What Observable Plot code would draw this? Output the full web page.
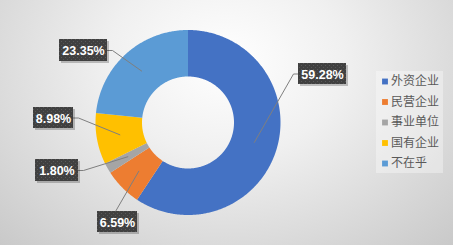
<!DOCTYPE html>
<html><head><meta charset="utf-8">
<script src="https://cdn.jsdelivr.net/npm/d3@7"></script>
<script src="https://cdn.jsdelivr.net/npm/@observablehq/plot@0.6"></script>
<style>
html,body{margin:0;padding:0;}
body{width:453px;height:245px;overflow:hidden;
background: radial-gradient(ellipse 75% 110% at 50% 25%, #ffffff 0%, #f0f0f0 35%, #c6c6c6 100%);}
#chart svg{display:block;background:transparent;}
</style></head>
<body><div id="chart"></div>
<script>
// ---- data ----
const categories = ["外资企业", "民营企业", "事业单位", "国有企业", "不在乎"];
const values = [59.28, 6.59, 1.80, 8.98, 23.35];
const labels = ["59.28%", "6.59%", "1.80%", "8.98%", "23.35%"];
const colors = ["#4472C4", "#ED7D31", "#A5A5A5", "#FFC000", "#5B9BD5"];

// ---- layout (pixel offsets from donut centre) ----
const CX = 187.5, CY = 122, R = 92.5, R0 = 46;
const labelLayout = [
  {dx: 134.5, dy: -48.5, w: 48, h: 21, side: "left"},
  {dx: -70.5, dy: 99.5, w: 40, h: 21, side: "top"},
  {dx: -131, dy: 48, w: 43, h: 22, side: "right"},
  {dx: -134.5, dy: -4.5, w: 40, h: 21, side: "right"},
  {dx: -104.5, dy: -72, w: 48, h: 22, side: "right"}
];
const legendBox = {x1: 188.5, x2: 255.5, y1: -51, y2: 51, markX: 197, textX: 203, rowY0: -41, rowStep: 20.5};

// ---- derived geometry ----
const pie = d3.pie().sort(null).value(d => d)(values);
const slicePts = [];
pie.forEach((p, i) => {
  const n = Math.max(4, Math.ceil((p.endAngle - p.startAngle) / 0.01));
  for (let k = 0; k <= n; k++) {
    const a = p.startAngle + (p.endAngle - p.startAngle) * k / n;
    slicePts.push({cat: categories[i], x: R * Math.sin(a), y: -R * Math.cos(a)});
  }
  for (let k = n; k >= 0; k--) {
    const a = p.startAngle + (p.endAngle - p.startAngle) * k / n;
    slicePts.push({cat: categories[i], x: R0 * Math.sin(a), y: -R0 * Math.cos(a)});
  }
});

const boxes = labelLayout.map((L, i) => ({
  label: labels[i], x: L.dx, y: L.dy,
  x1: L.dx - L.w / 2, x2: L.dx + L.w / 2, y1: L.dy - L.h / 2, y2: L.dy + L.h / 2
}));

const leaderPts = [];
pie.forEach((p, i) => {
  const a = (p.startAngle + p.endAngle) / 2, rm = (R + R0) / 2;
  const L = labelLayout[i], b = boxes[i];
  const ax = rm * Math.sin(a), ay = -rm * Math.cos(a);
  let pts;
  if (L.side === "left") pts = [[ax, ay], [b.x1 - 5, L.dy], [b.x1, L.dy]];
  else if (L.side === "right") pts = [[ax, ay], [b.x2 + 5, L.dy], [b.x2, L.dy]];
  else pts = [[ax, ay], [L.dx - 2, b.y1]];
  pts.forEach(([x, y]) => leaderPts.push({label: labels[i], x, y}));
});

const legendRows = categories.map((c, i) => ({cat: c, y: legendBox.rowY0 + i * legendBox.rowStep}));

const chart = Plot.plot({
  width: 453, height: 245,
  margin: 0,
  style: {background: "transparent", overflow: "visible"},
  x: {domain: [-CX, 453 - CX], range: [0, 453], axis: null},
  y: {domain: [-CY, 245 - CY], range: [0, 245], axis: null},
  color: {domain: categories, range: colors},
  marks: [
    Plot.line(slicePts, {x: "x", y: "y", z: "cat", fill: "cat", stroke: "none", curve: "linear"}),
    Plot.line(leaderPts, {x: "x", y: "y", z: "label", stroke: "#7f7f7f", strokeWidth: 1}),
    Plot.rect(boxes, {x1: "x1", x2: "x2", y1: "y1", y2: "y2", fill: "#000", fillOpacity: 0.22, dx: 2, dy: 2}),
    Plot.rect(boxes, {x1: "x1", x2: "x2", y1: "y1", y2: "y2", fill: "#404040"}),
    Plot.rect(boxes, {x1: "x1", x2: "x2", y1: "y1", y2: "y2", fill: "url(#dots)"}),
    Plot.text(boxes, {x: "x", y: "y", text: "label", fill: "#ffffff", fontWeight: "bold", fontSize: 12.5,
      fontFamily: "Liberation Sans, Arial, sans-serif", dy: 0.5}),
    Plot.rect([legendBox], {x1: "x1", x2: "x2", y1: "y1", y2: "y2", fill: "#ffffff", fillOpacity: 0.35}),
    Plot.dot(legendRows, {x: () => legendBox.markX, y: "y", fill: "cat", symbol: "square", r: 3.3, stroke: "none"}),
    Plot.text(legendRows, {x: () => legendBox.textX, y: "y", text: "cat", textAnchor: "start", fill: "#595959",
      fontSize: 12, fontFamily: "Noto Sans CJK SC, sans-serif"})
  ]
});

const svg = d3.select(chart);
const defs = svg.insert("defs", ":first-child");
const pat = defs.append("pattern").attr("id", "dots").attr("width", 4).attr("height", 4)
  .attr("patternUnits", "userSpaceOnUse");
pat.append("rect").attr("x", 1).attr("y", 1).attr("width", 1).attr("height", 1).attr("fill", "#5a5a5a");
pat.append("rect").attr("x", 3).attr("y", 3).attr("width", 1).attr("height", 1).attr("fill", "#555555");
document.getElementById("chart").appendChild(chart);
</script>
</body></html>
